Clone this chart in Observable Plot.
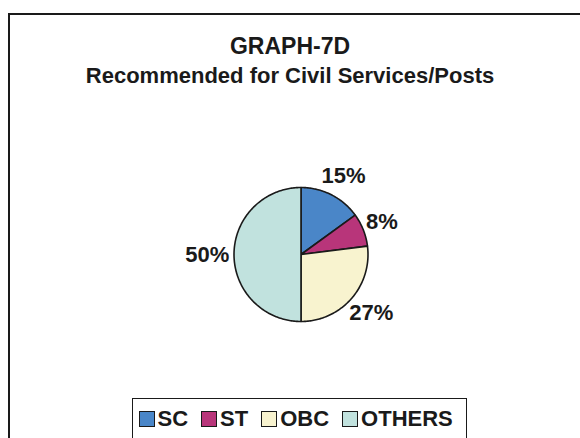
<!DOCTYPE html>
<html>
<head>
<meta charset="utf-8">
<script src="https://cdn.jsdelivr.net/npm/d3@7"></script>
<script src="https://cdn.jsdelivr.net/npm/@observablehq/plot@0.6"></script>
<style>
  html, body { margin: 0; padding: 0; background: #fff; overflow: hidden; }
  body { width: 580px; height: 438px; font-family: "Liberation Sans", Arial, Helvetica, sans-serif; color: #1a1a1a; }
  #wrap { position: relative; width: 580px; height: 438px; overflow: hidden; }
  #chart { position: absolute; left: 0; top: 0; }
  #chart svg { background: transparent !important; }
  #frame { position: absolute; left: 8px; top: 13px; width: 800px; height: 600px; border: 2.5px solid #1a1a1a; box-sizing: border-box; }
  .t { position: absolute; left: 0; width: 580px; text-align: center; font-weight: bold; line-height: 1; white-space: nowrap; }
  #title { top: 35px; font-size: 23px; }
  #subtitle { top: 65px; font-size: 22px; }
  #legend { position: absolute; left: 132px; top: 398px; width: 335px; height: 80px; box-sizing: border-box;
            border: 1.5px solid #1a1a1a; padding: 9px 0 0 5.5px; display: flex; align-items: flex-start; }
  .item { display: flex; align-items: center; margin-right: 13px; height: 21px; }
  .sw { width: 16px; height: 16px; box-sizing: border-box; border: 1.4px solid #1a1a1a; margin-right: 3px; }
  .lab { font-size: 22px; font-weight: bold; line-height: 1; }
</style>
</head>
<body>
<div id="wrap">
  <div id="chart"></div>
  <div id="frame"></div>
  <div class="t" id="title">GRAPH-7D</div>
  <div class="t" id="subtitle">Recommended for Civil Services/Posts</div>
  <div id="legend"></div>
</div>
<script>
const categories = ["SC", "ST", "OBC", "OTHERS"];
const values = [15, 8, 27, 50];
const colors = ["#4a86c8", "#b8357a", "#f8f3cf", "#c1e2de"];
const labels = ["15%", "8%", "27%", "50%"];

const arcs = d3.pie().sort(null).value(d => d)(values);

// Slice outlines: centre -> arc -> centre, computed from the pie angles
const slicePts = [];
arcs.forEach((a, i) => {
  const cat = categories[i];
  slicePts.push({cat, x: 0, y: 0});
  const n = Math.max(2, Math.ceil((a.endAngle - a.startAngle) / (Math.PI / 180)));
  for (let k = 0; k <= n; k++) {
    const t = a.startAngle + (a.endAngle - a.startAngle) * k / n;
    slicePts.push({cat, x: Math.sin(t), y: Math.cos(t)});
  }
  slicePts.push({cat, x: 0, y: 0});
});

// Labels sit just outside the rim; the text box is pushed outward along the bisector
const labelPts = arcs.map((a, i) => {
  const m = (a.startAngle + a.endAngle) / 2;
  const r = 1.1;
  const hw = labels[i].length * 0.1, hh = 0.22;
  return {text: labels[i], x: (r + hw) * Math.sin(m), y: (r + hh) * Math.cos(m)};
});

const cx = 300.5, cy = 254, R = 67;
const chart = Plot.plot({
  width: 580,
  height: 438,
  margin: 0,
  style: {background: "transparent", fontFamily: "'Liberation Sans', Arial, sans-serif"},
  x: {domain: [-1, 1], range: [cx - R, cx + R], axis: null},
  y: {domain: [-1, 1], range: [cy + R, cy - R], axis: null},
  color: {domain: categories, range: colors},
  marks: [
    Plot.line(slicePts, {x: "x", y: "y", z: "cat", fill: "cat", stroke: "#1a1a1a", strokeWidth: 1.6, strokeLinejoin: "round"}),
    Plot.text(labelPts, {x: "x", y: "y", text: "text", fontSize: 22, fontWeight: "bold", fill: "#1a1a1a", textAnchor: "middle", lineAnchor: "middle"})
  ]
});
document.getElementById("chart").appendChild(chart);

const legend = document.getElementById("legend");
categories.forEach((c, i) => {
  const it = document.createElement("div");
  it.className = "item";
  const sw = document.createElement("div");
  sw.className = "sw";
  sw.style.background = colors[i];
  const lb = document.createElement("span");
  lb.className = "lab";
  lb.textContent = c;
  it.appendChild(sw);
  it.appendChild(lb);
  legend.appendChild(it);
});
</script>
</body>
</html>
